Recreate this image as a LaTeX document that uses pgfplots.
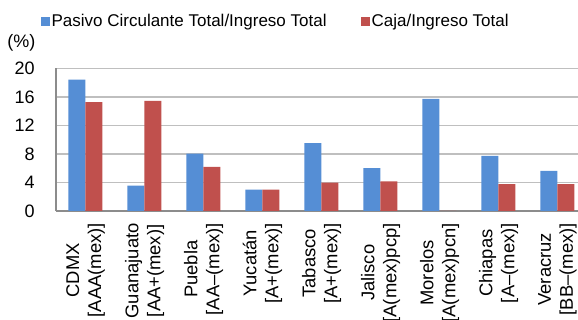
\documentclass[border=0pt]{standalone}
\usepackage{pgfplots}
\pgfplotsset{compat=1.18}
\usepackage{fontspec}
\setmainfont{Liberation Sans}
\definecolor{barblue}{HTML}{558ED5}
\definecolor{barred}{HTML}{C0504D}
\definecolor{gridc}{HTML}{BFBFBF}
\definecolor{axc}{HTML}{8C8C8C}
\begin{document}
\begin{tikzpicture}
\useasboundingbox (0pt,0pt) rectangle (433.5pt,240pt);
\clip (0pt,0pt) rectangle (433.5pt,240pt);
\begin{axis}[
  at={(42pt,81.75pt)}, anchor=south west,
  scale only axis, width=398.25pt, height=107pt,
  ybar=0pt, bar width=12.75pt,
  xmin=-0.5, xmax=8.5, ymin=0, ymax=20,
  ytick={0,4,...,20},
  xtick={0,...,8},
  xticklabels={{CDMX\\{[}AAA(mex)]},{Guanajuato\\{[}AA+(mex)]},{Puebla\\{[}AA--(mex)]},{Yucatán\\{[}A+(mex)]},{Tabasco\\{[}A+(mex)]},{Jalisco\\{[}A(mex)pcp]},{Morelos\\{[}A(mex)pcn]},{Chiapas\\{[}A--(mex)]},{Veracruz\\{[}BB--(mex)]}},
  axis x line=bottom, axis y line=left,
  axis line style={draw=axc, line width=1pt, -},
  ymajorgrids, grid style={gridc, line width=1pt},
  major tick length=0pt,
  /pgf/number format/assume math mode=true,
  tick label style={font=\fontsize{13.5}{16.5}\selectfont},
  yticklabel style={inner sep=0pt},
  yticklabel shift=15.75pt,
  xticklabel style={rotate=90, anchor=east, align=center, inner sep=0pt, font=\fontsize{13.8}{16.5}\selectfont},
  xticklabel shift=9pt,
  legend columns=2,
  legend style={at={(-0.0282,1.328)}, anchor=west, draw=none, fill=none, inner sep=0pt,
    font=\fontsize{12.75}{15}\selectfont,
    nodes={inner sep=1pt},
    /tikz/every even column/.append style={column sep=25pt}},
  legend image code/.code={\fill[#1] (0pt,-3.4pt) rectangle (6.75pt,3.4pt);},
]
\addplot[fill=barblue, draw=none] coordinates {(0,18.4) (1,3.55) (2,8.05) (3,3.0) (4,9.5) (5,6.0) (6,15.73) (7,7.72) (8,5.62)};
\addplot[fill=barred, draw=none] coordinates {(0,15.25) (1,15.45) (2,6.18) (3,3.0) (4,3.97) (5,4.17) (6,0) (7,3.75) (8,3.75)};
\legend{Pasivo Circulante Total/Ingreso Total, Caja/Ingreso Total}
\end{axis}
\node[font=\fontsize{13.5}{16.5}\selectfont] at (16.1pt,208.1pt) {(\%)};
\end{tikzpicture}
\end{document}
